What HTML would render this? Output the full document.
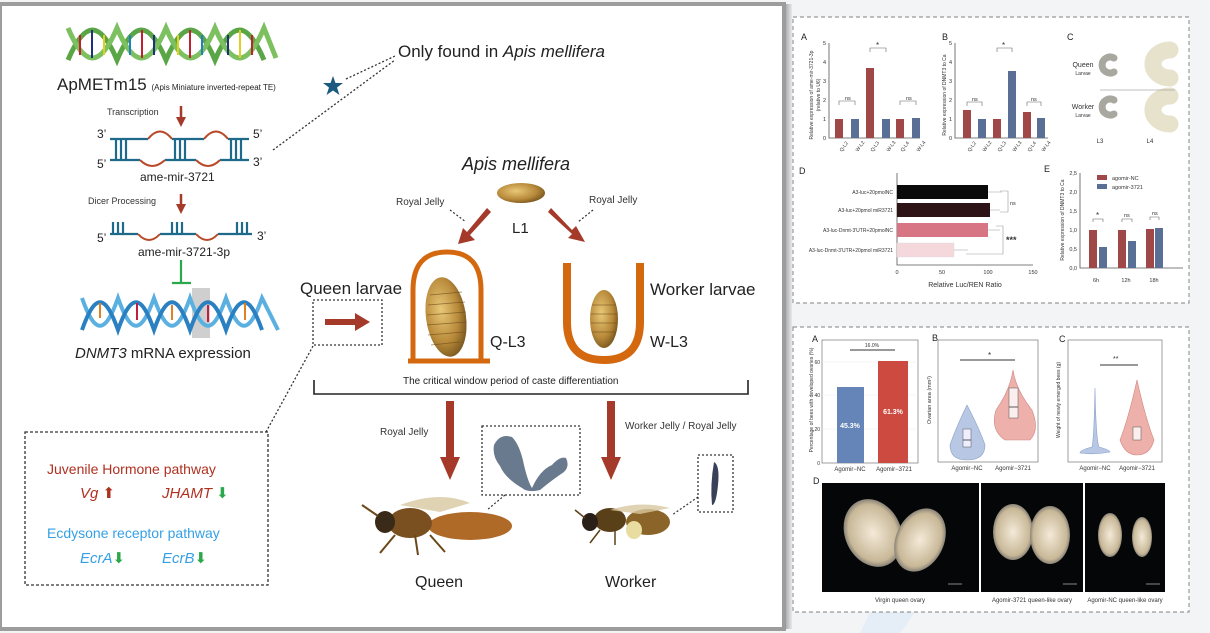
<!DOCTYPE html>
<html><head><meta charset="utf-8"><style>
html,body{margin:0;padding:0;background:#f3f4f6;}
svg{display:block;font-family:"Liberation Sans",Arial,sans-serif;}
</style></head><body>
<svg width="1210" height="633" viewBox="0 0 1210 633" xmlns="http://www.w3.org/2000/svg">
<defs>
<linearGradient id="sh" x1="0" x2="1"><stop offset="0" stop-color="#8a8a8a"/><stop offset="1" stop-color="#e8e9ec"/></linearGradient>
<radialGradient id="larva" cx="0.4" cy="0.4" r="0.7"><stop offset="0" stop-color="#e8c878"/><stop offset="0.6" stop-color="#b88a3a"/><stop offset="1" stop-color="#6a4a18"/></radialGradient>
<radialGradient id="ov" cx="0.5" cy="0.5" r="0.6"><stop offset="0" stop-color="#f4ead8"/><stop offset="0.7" stop-color="#c8b898"/><stop offset="1" stop-color="#3a4050"/></radialGradient>
<marker id="ah" markerWidth="4" markerHeight="4" refX="2" refY="2" orient="auto"><path d="M0,0 L4,2 L0,4z" fill="#a53a2a"/></marker>
</defs>
<rect width="1210" height="633" fill="#f3f4f6"/>
<path d="M900,470 Q960,560 900,633 L860,633 Q900,560 860,470z" fill="#dce8f6" opacity="0.6"/>
<!-- left panel -->
<rect x="782" y="4" width="10" height="625" fill="url(#sh)"/>
<rect x="0" y="4" width="784" height="625" fill="#fff" stroke="#9c9c9c" stroke-width="4"/>
<!-- top helix -->
<g stroke-width="5" fill="none">
<path d="M68,60 C85,20 100,20 117,60 C134,20 149,20 166,60 C183,20 198,20 215,60 C232,20 247,20 264,60" stroke="#5aa545"/>
<path d="M68,28 C85,68 100,68 117,28 C134,68 149,68 166,28 C183,68 198,68 215,28 C232,68 247,68 264,28 L276,58" stroke="#7cc060"/>
</g>
<g stroke-width="2">
<line x1="80" y1="35" x2="80" y2="55" stroke="#c02030"/><line x1="92" y1="30" x2="92" y2="58" stroke="#203080"/><line x1="104" y1="35" x2="104" y2="55" stroke="#e0d020"/>
<line x1="130" y1="35" x2="130" y2="55" stroke="#2080c0"/><line x1="142" y1="30" x2="142" y2="58" stroke="#c02030"/><line x1="154" y1="35" x2="154" y2="55" stroke="#203080"/>
<line x1="178" y1="35" x2="178" y2="55" stroke="#e0d020"/><line x1="190" y1="30" x2="190" y2="58" stroke="#c02030"/><line x1="202" y1="35" x2="202" y2="55" stroke="#2080c0"/>
<line x1="228" y1="35" x2="228" y2="55" stroke="#203080"/><line x1="240" y1="30" x2="240" y2="58" stroke="#e0d020"/><line x1="252" y1="35" x2="252" y2="55" stroke="#c02030"/>
</g>
<text x="57" y="90" font-size="17" fill="#222">ApMETm15 <tspan font-size="8">(Apis Miniature inverted-repeat TE)</tspan></text>
<polygon points="333,76 335.5,83 343,83 337,87.5 339.5,95 333,90.5 326.5,95 329,87.5 323,83 330.5,83" fill="#1a5a80"/>
<g stroke="#333" stroke-width="1.3" stroke-dasharray="2,2" fill="none">
<line x1="346" y1="79" x2="395" y2="56"/><line x1="273" y1="150" x2="395" y2="60"/>
<line x1="313" y1="346" x2="266" y2="432"/>
</g>
<text x="398" y="57" font-size="17" fill="#222">Only found in <tspan font-style="italic">Apis mellifera</tspan></text>
<text x="107" y="115" font-size="9" fill="#333">Transcription</text>
<line x1="181" y1="106" x2="181" y2="122" stroke="#a53a2a" stroke-width="2.5" marker-end="url(#ah)"/>
<g stroke="#1e6a8a" stroke-width="2.2" fill="none">
<path d="M110,139 H148 M172,139 H204 M228,139 H249"/>
<path d="M110,160 H140 M165,160 H196 M220,160 H249"/>
<path d="M116,139 V160 M121,139 V160 M126,139 V160 M175,139 V160 M180,139 V160 M185,139 V160 M231,139 V160 M236,139 V160 M241,139 V160"/>
</g>
<g stroke="#b84a2a" stroke-width="2" fill="none">
<path d="M148,139 Q160,124 172,139"/><path d="M204,139 Q216,124 228,139"/><path d="M140,160 Q152,172 165,160"/><path d="M196,160 Q208,172 220,160"/>
</g>
<g font-size="12" fill="#222"><text x="97" y="138">3’</text><text x="97" y="168">5’</text><text x="253" y="138">5’</text><text x="253" y="166">3’</text>
<text x="140" y="181">ame-mir-3721</text></g>
<text x="88" y="204" font-size="9" fill="#333">Dicer Processing</text>
<line x1="181" y1="194" x2="181" y2="209" stroke="#a53a2a" stroke-width="2.5" marker-end="url(#ah)"/>
<g stroke="#1e6a8a" stroke-width="2.2" fill="none">
<path d="M110,234 H138 M160,234 H196 M218,234 H252 M113,234 V222 M118,234 V222 M123,234 V222 M172,234 V222 M177,234 V222 M182,234 V222 M237,234 V222 M242,234 V222 M247,234 V222"/>
</g>
<g stroke="#b84a2a" stroke-width="2" fill="none"><path d="M138,234 Q149,246 160,234"/><path d="M196,234 Q207,246 218,234"/></g>
<g font-size="12" fill="#222"><text x="97" y="242">5’</text><text x="257" y="240">3’</text><text x="138" y="256">ame-mir-3721-3p</text></g>
<path d="M181,260 V283 M172,283 H191" stroke="#2aa84a" stroke-width="2.2"/>
<rect x="192" y="288" width="18" height="50" fill="#cfcfcf"/>
<g fill="none" stroke-width="4">
<path d="M82,298 C95,335 105,335 118,298 C131,335 141,335 154,298 C167,335 177,335 190,298 C203,335 213,335 226,298 C239,335 249,335 262,298 L278,330" stroke="#5ab0e0"/>
<path d="M82,330 C95,293 105,293 118,330 C131,293 141,293 154,330 C167,293 177,293 190,330 C203,293 213,293 226,330 C239,293 249,293 262,330" stroke="#2a80c0"/>
</g>
<g stroke-width="2"><line x1="100" y1="303" x2="100" y2="318" stroke="#e08020"/><line x1="137" y1="303" x2="137" y2="320" stroke="#c02040"/><line x1="172" y1="305" x2="172" y2="320" stroke="#e08020"/><line x1="208" y1="305" x2="208" y2="322" stroke="#c02040"/><line x1="245" y1="303" x2="245" y2="320" stroke="#e08020"/></g>
<text x="75" y="358" font-size="15" fill="#222"><tspan font-style="italic">DNMT3</tspan> mRNA expression</text>
<text x="300" y="294" font-size="17" fill="#222">Queen larvae</text>
<rect x="313" y="300" width="69" height="45" fill="none" stroke="#333" stroke-width="1.3" stroke-dasharray="2,2"/>
<path d="M325,319 H355 V313 L370,322 L355,331 V325 H325z" fill="#a53a2a"/>
<rect x="25" y="432" width="243" height="153" fill="none" stroke="#333" stroke-width="1.3" stroke-dasharray="3,2"/>
<text x="47" y="474" font-size="14" fill="#b03020">Juvenile Hormone pathway</text>
<text x="80" y="498" font-size="15" font-style="italic" fill="#b03020">Vg <tspan fill="#b03020" font-style="normal">⬆</tspan></text>
<text x="162" y="498" font-size="15" font-style="italic" fill="#b03020">JHAMT <tspan fill="#2aa84a" font-style="normal">⬇</tspan></text>
<text x="47" y="538" font-size="14" fill="#35a0e6">Ecdysone receptor pathway</text>
<text x="80" y="563" font-size="15" font-style="italic" fill="#35a0e6">EcrA<tspan fill="#2aa84a" font-style="normal">⬇</tspan></text>
<text x="162" y="563" font-size="15" font-style="italic" fill="#35a0e6">EcrB<tspan fill="#2aa84a" font-style="normal">⬇</tspan></text>
<!-- middle -->
<text x="462" y="170" font-size="18" font-style="italic" fill="#222">Apis mellifera</text>
<ellipse cx="521" cy="193" rx="24" ry="10" fill="url(#larva)"/>
<text x="512" y="233" font-size="15" fill="#222">L1</text>
<text x="396" y="205" font-size="10" fill="#333">Royal Jelly</text>
<text x="589" y="203" font-size="10" fill="#333">Royal Jelly</text>
<g stroke="#333" stroke-width="1.2" stroke-dasharray="2,2"><line x1="450" y1="210" x2="466" y2="222"/><line x1="593" y1="210" x2="578" y2="222"/></g>
<path d="M491,212 L470,235 L475,240 L458,244 L463,228 L467,232 L487,208z" fill="#a53a2a"/>
<path d="M551,208 L572,230 L576,226 L585,242 L568,238 L572,234 L548,212z" fill="#a53a2a"/>
<path d="M413,360 V290 Q413,252 447,252 Q481,252 481,290 V360" fill="none" stroke="#d4680e" stroke-width="5"/>
<line x1="408" y1="361" x2="490" y2="361" stroke="#d4680e" stroke-width="5"/>
<ellipse cx="446" cy="317" rx="20" ry="40" fill="url(#larva)" transform="rotate(-8 446 317)"/>
<g stroke="#6a4a18" stroke-width="0.8" opacity="0.7"><line x1="430" y1="295" x2="462" y2="292"/><line x1="428" y1="305" x2="465" y2="302"/><line x1="427" y1="315" x2="466" y2="312"/><line x1="427" y1="325" x2="466" y2="322"/><line x1="428" y1="335" x2="464" y2="332"/><line x1="431" y1="345" x2="460" y2="342"/></g>
<path d="M567,263 V322 Q567,360 604,360 Q640,360 640,322 V263" fill="none" stroke="#d4680e" stroke-width="8"/>
<ellipse cx="604" cy="319" rx="14" ry="29" fill="url(#larva)"/>
<g stroke="#6a4a18" stroke-width="0.8" opacity="0.7"><line x1="592" y1="305" x2="616" y2="305"/><line x1="591" y1="314" x2="617" y2="314"/><line x1="591" y1="323" x2="617" y2="323"/><line x1="592" y1="332" x2="616" y2="332"/></g>
<text x="490" y="347" font-size="16" fill="#222">Q-L3</text>
<text x="650" y="347" font-size="16" fill="#222">W-L3</text>
<text x="650" y="295" font-size="17" fill="#222">Worker larvae</text>
<path d="M314,380 V394 H748 V380" fill="none" stroke="#222" stroke-width="1.6"/>
<text x="403" y="384" font-size="10" fill="#222">The critical window period of caste differentiation</text>
<path d="M446,401 H454 V457 H460 L450,480 L440,457 H446z" fill="#a53a2a"/>
<path d="M607,401 H615 V457 H621 L611,480 L601,457 H607z" fill="#a53a2a"/>
<text x="380" y="435" font-size="10" fill="#333">Royal Jelly</text>
<text x="625" y="429" font-size="10" fill="#333">Worker Jelly / Royal Jelly</text>
<rect x="482" y="426" width="98" height="69" fill="none" stroke="#333" stroke-width="1.3" stroke-dasharray="2,2"/>
<path d="M494,445 Q500,433 512,437 Q520,445 524,465 Q528,482 532,488 Q540,470 552,465 Q560,456 566,458 Q570,466 564,472 Q552,480 540,490 Q528,493 522,488 Q505,478 500,466 Q492,456 494,445z" fill="#6a7a8e"/>
<rect x="698" y="455" width="35" height="57" fill="none" stroke="#333" stroke-width="1.3" stroke-dasharray="2,2"/>
<path d="M714,462 Q720,465 718,485 Q716,505 712,505 Q710,485 714,462z" fill="#3a4058"/>
<g stroke="#333" stroke-width="1.2" stroke-dasharray="2,2"><line x1="505" y1="495" x2="487" y2="510"/><line x1="698" y1="497" x2="672" y2="515"/></g>
<ellipse cx="470" cy="526" rx="42" ry="14" fill="#b06a28"/>
<ellipse cx="410" cy="523" rx="22" ry="15" fill="#7a5020"/>
<ellipse cx="385" cy="522" rx="10" ry="11" fill="#3a2a18"/>
<path d="M400,505 Q440,490 470,503 L440,512z" fill="#d8c8a0" opacity="0.8"/>
<g stroke="#6a4818" stroke-width="2"><line x1="395" y1="535" x2="380" y2="553"/><line x1="415" y1="535" x2="418" y2="555"/><line x1="430" y1="535" x2="445" y2="552"/><line x1="378" y1="516" x2="362" y2="505"/></g>
<text x="415" y="587" font-size="16" fill="#222">Queen</text>
<ellipse cx="648" cy="522" rx="22" ry="13" fill="#8a6428"/>
<ellipse cx="610" cy="520" rx="16" ry="12" fill="#5a4018"/>
<ellipse cx="590" cy="522" rx="8" ry="9" fill="#2a2018"/>
<ellipse cx="634" cy="530" rx="8" ry="9" fill="#e8dca0"/>
<path d="M610,510 Q640,500 670,508 L640,514z" fill="#d8c8a0" opacity="0.8"/>
<g stroke="#5a4018" stroke-width="1.5"><line x1="600" y1="530" x2="590" y2="543"/><line x1="615" y1="531" x2="615" y2="545"/><line x1="585" y1="518" x2="575" y2="510"/></g>
<text x="605" y="587" font-size="16" fill="#222">Worker</text>

<!-- RIGHT TOP PANEL -->
<rect x="793" y="17" width="396" height="286" fill="#fff" stroke="#999" stroke-width="1.2" stroke-dasharray="4,3"/>
<g font-size="9" fill="#222">
<text x="801" y="40">A</text><text x="942" y="40">B</text><text x="1067" y="40">C</text><text x="799" y="174">D</text><text x="1044" y="172">E</text>
</g>
<g font-size="5.5" fill="#333">
<path d="M829,43 V138 H920" fill="none" stroke="#555" stroke-width="0.8"/>
<text x="826" y="140" text-anchor="end">0</text><text x="826" y="121" text-anchor="end">1</text><text x="826" y="102" text-anchor="end">2</text><text x="826" y="83" text-anchor="end">3</text><text x="826" y="64" text-anchor="end">4</text><text x="826" y="45" text-anchor="end">5</text>
<rect x="835" y="119" width="8" height="19" fill="#a04848"/><rect x="851" y="119" width="8" height="19" fill="#5a6f95"/>
<rect x="866" y="68" width="8" height="70" fill="#a04848"/><rect x="882" y="119" width="8" height="19" fill="#5a6f95"/>
<rect x="896" y="119" width="8" height="19" fill="#a04848"/><rect x="912" y="118" width="8" height="20" fill="#5a6f95"/>
<path d="M839,105 V101 H855 V105 M870,52 V48 H886 V52 M900,105 V101 H916 V105" fill="none" stroke="#666" stroke-width="0.6"/>
<text x="845" y="100">ns</text><text x="876" y="48" font-size="8">*</text><text x="906" y="100">ns</text>
<text transform="translate(813,95) rotate(-90)" text-anchor="middle" font-size="5">Relative expression of ame-mir-3721-3p</text>
<text transform="translate(820,95) rotate(-90)" text-anchor="middle" font-size="5">(relative to U6)</text>
<g font-size="5"><text transform="translate(842,152) rotate(-55)">Q-L2</text><text transform="translate(858,152) rotate(-55)">W-L2</text><text transform="translate(873,152) rotate(-55)">Q-L3</text><text transform="translate(889,152) rotate(-55)">W-L3</text><text transform="translate(903,152) rotate(-55)">Q-L4</text><text transform="translate(919,152) rotate(-55)">W-L4</text></g>
</g>
<g font-size="5.5" fill="#333">
<path d="M955,43 V138 H1048" fill="none" stroke="#555" stroke-width="0.8"/>
<text x="952" y="140" text-anchor="end">0</text><text x="952" y="121" text-anchor="end">1</text><text x="952" y="102" text-anchor="end">2</text><text x="952" y="83" text-anchor="end">3</text><text x="952" y="64" text-anchor="end">4</text><text x="952" y="45" text-anchor="end">5</text>
<rect x="963" y="110" width="8" height="28" fill="#a04848"/><rect x="978" y="119" width="8" height="19" fill="#5a6f95"/>
<rect x="993" y="119" width="8" height="19" fill="#a04848"/><rect x="1008" y="71" width="8" height="67" fill="#5a6f95"/>
<rect x="1023" y="112" width="8" height="26" fill="#a04848"/><rect x="1037" y="118" width="8" height="20" fill="#5a6f95"/>
<path d="M967,106 V102 H982 V106 M997,52 V48 H1012 V52 M1027,106 V102 H1041 V106" fill="none" stroke="#666" stroke-width="0.6"/>
<text x="972" y="101">ns</text><text x="1002" y="48" font-size="8">*</text><text x="1031" y="101">ns</text>
<text transform="translate(946,95) rotate(-90)" text-anchor="middle" font-size="5">Relative expression of DNMT3 to Ca</text>
<g font-size="5"><text transform="translate(970,152) rotate(-55)">Q-L2</text><text transform="translate(985,152) rotate(-55)">W-L2</text><text transform="translate(1000,152) rotate(-55)">Q-L3</text><text transform="translate(1015,152) rotate(-55)">W-L3</text><text transform="translate(1030,152) rotate(-55)">Q-L4</text><text transform="translate(1044,152) rotate(-55)">W-L4</text></g>
</g>
<!-- C -->
<g font-size="6" fill="#333" text-anchor="middle">
<text x="1083" y="67" font-size="7">Queen</text><text x="1083" y="75" font-size="5">Larvae</text>
<text x="1083" y="109" font-size="7">Worker</text><text x="1083" y="117" font-size="5">Larvae</text>
<text x="1100" y="143">L3</text><text x="1150" y="143">L4</text>
</g>
<g fill="none" stroke-linecap="round">
<path d="M1114,58 A8,8 0 1 0 1114,72" stroke="#a8a8a0" stroke-width="7"/>
<path d="M1170,50 A17,14 0 1 0 1170,78" stroke="#e6e2cc" stroke-width="17"/>
<path d="M1114,100 A8,8 0 1 0 1114,114" stroke="#a8a8a0" stroke-width="7"/>
<path d="M1170,96 A17,14 0 1 0 1170,124" stroke="#e6e2cc" stroke-width="17"/>
</g>
<line x1="1100" y1="90" x2="1175" y2="90" stroke="#aaa" stroke-width="0.8"/>
<!-- D -->
<g font-size="5.5" fill="#333">
<path d="M897,173 V265 H1033" fill="none" stroke="#555" stroke-width="0.8"/>
<rect x="897" y="185" width="91" height="14" fill="#0a0a0a"/>
<rect x="897" y="203" width="93" height="14" fill="#2d1216"/>
<rect x="897" y="223" width="91" height="14" fill="#d87585"/>
<rect x="897" y="243" width="57" height="14" fill="#f4d8dc" stroke="#ddd" stroke-width="0.4"/>
<g text-anchor="end" font-size="5"><text x="893" y="194">A3-luc+20pmolNC</text><text x="893" y="212">A3-luc+20pmol miR3721</text><text x="893" y="232">A3-luc-Dnmt-3'UTR+20pmolNC</text><text x="893" y="252">A3-luc-Dnmt-3'UTR+20pmol miR3721</text></g>
<path d="M988,192 H1002 M990,210 H1000 M1000,191 H1008 V212 H1000 M985,230 H1000 M968,250 H954 M996,226 H1003 V254 H966" fill="none" stroke="#999" stroke-width="0.6"/>
<text x="1010" y="205">ns</text><text x="1006" y="243" font-size="9" font-weight="bold">***</text>
<g text-anchor="middle"><text x="897" y="274">0</text><text x="942" y="274">50</text><text x="988" y="274">100</text><text x="1033" y="274">150</text>
<text x="965" y="287" font-size="7">Relative Luc/REN Ratio</text></g>
</g>
<!-- E -->
<g font-size="5.5" fill="#333">
<path d="M1080,173 V268 H1183" fill="none" stroke="#555" stroke-width="0.8"/>
<g text-anchor="end"><text x="1077" y="270">0,0</text><text x="1077" y="251">0,5</text><text x="1077" y="232">1,0</text><text x="1077" y="213">1,5</text><text x="1077" y="194">2,0</text><text x="1077" y="175">2,5</text></g>
<rect x="1089" y="230" width="8" height="38" fill="#a04848"/><rect x="1099" y="247" width="8" height="21" fill="#5a6f95"/>
<rect x="1118" y="230" width="8" height="38" fill="#a04848"/><rect x="1128" y="241" width="8" height="27" fill="#5a6f95"/>
<rect x="1146" y="229" width="8" height="39" fill="#a04848"/><rect x="1155" y="228" width="8" height="40" fill="#5a6f95"/>
<path d="M1093,222 V219 H1103 V222 M1122,222 V219 H1132 V222 M1150,220 V217 H1159 V220" fill="none" stroke="#666" stroke-width="0.6"/>
<text x="1096" y="218" font-size="8">*</text><text x="1124" y="217">ns</text><text x="1152" y="215">ns</text>
<rect x="1097" y="175" width="10" height="5" fill="#a04848"/><text x="1112" y="180">agomir-NC</text>
<rect x="1097" y="184" width="10" height="5" fill="#5a6f95"/><text x="1112" y="189">agomir-3721</text>
<text transform="translate(1064,220) rotate(-90)" text-anchor="middle" font-size="5">Relative expression of DNMT3 to Ca</text>
<g text-anchor="middle"><text x="1096" y="282">6h</text><text x="1126" y="282">12h</text><text x="1154" y="282">18h</text></g>
</g>

<!-- RIGHT BOTTOM PANEL -->
<rect x="793" y="327" width="396" height="285" fill="#fff" stroke="#999" stroke-width="1.2" stroke-dasharray="4,3"/>
<g font-size="9" fill="#222"><text x="812" y="342">A</text><text x="932" y="341">B</text><text x="1059" y="342">C</text><text x="813" y="484">D</text></g>
<g font-size="5" fill="#333">
<rect x="822" y="340" width="96" height="123" fill="none" stroke="#888" stroke-width="0.8"/>
<g stroke="#eee" stroke-width="0.5"><line x1="822" y1="362" x2="918" y2="362"/><line x1="822" y1="395" x2="918" y2="395"/><line x1="822" y1="429" x2="918" y2="429"/></g>
<rect x="837" y="387" width="27" height="76" fill="#6584b8"/>
<rect x="878" y="361" width="30" height="102" fill="#cc4a40"/>
<line x1="850" y1="350" x2="895" y2="350" stroke="#333" stroke-width="1"/>
<text x="872" y="347" text-anchor="middle">16.0%</text>
<text x="850" y="428" text-anchor="middle" fill="#fff" font-size="7" font-weight="bold">45.3%</text>
<text x="893" y="414" text-anchor="middle" fill="#fff" font-size="7" font-weight="bold">61.3%</text>
<g text-anchor="end"><text x="820" y="465">0</text><text x="820" y="431">20</text><text x="820" y="397">40</text><text x="820" y="364">60</text></g>
<text transform="translate(813,400) rotate(-90)" text-anchor="middle" font-size="5">Percentage of bees with developed ovaries (%)</text>
<g text-anchor="middle" font-size="6"><text x="850" y="471">Agomir−NC</text><text x="894" y="471">Agomir−3721</text></g>
</g>
<g font-size="5" fill="#333">
<rect x="938" y="340" width="100" height="122" fill="none" stroke="#888" stroke-width="0.8"/>
<path d="M967,405 Q955,430 950,445 Q950,460 967,460 Q985,460 985,445 Q980,430 967,405z" fill="#b8c8e4" stroke="#8aa0c8" stroke-width="0.6"/>
<rect x="963" y="429" width="8" height="18" fill="#eef" stroke="#555" stroke-width="0.5"/>
<line x1="963" y1="440" x2="971" y2="440" stroke="#333" stroke-width="0.8"/>
<path d="M1013,370 Q1010,390 996,410 Q990,430 1005,440 L1030,440 Q1040,430 1032,410 Q1016,390 1013,370z" fill="#eeb0aa" stroke="#d08880" stroke-width="0.6"/>
<rect x="1009" y="388" width="9" height="30" fill="#fbeeee" stroke="#555" stroke-width="0.5"/>
<line x1="1009" y1="407" x2="1018" y2="407" stroke="#333" stroke-width="0.8"/>
<line x1="960" y1="360" x2="1015" y2="360" stroke="#333" stroke-width="1"/>
<text x="988" y="358" font-size="8">*</text>
<text transform="translate(931,400) rotate(-90)" text-anchor="middle" font-size="5.5">Ovarian area (mm²)</text>
<g text-anchor="middle" font-size="6"><text x="967" y="470">Agomir−NC</text><text x="1013" y="470">Agomir−3721</text></g>
</g>
<g font-size="5" fill="#333">
<rect x="1068" y="340" width="94" height="122" fill="none" stroke="#888" stroke-width="0.8"/>
<path d="M1095,388 Q1096,440 1099,447 Q1110,450 1110,452 Q1095,455 1080,453 Q1080,450 1092,447 Q1094,440 1095,388z" fill="#b8c8e4" stroke="#8aa0c8" stroke-width="0.6"/>
<path d="M1137,380 Q1128,420 1120,440 Q1125,455 1137,455 Q1150,455 1154,440 Q1146,420 1137,380z" fill="#eeb0aa" stroke="#d08880" stroke-width="0.6"/>
<rect x="1133" y="427" width="8" height="13" fill="#fbeeee" stroke="#555" stroke-width="0.5"/>
<line x1="1100" y1="365" x2="1138" y2="365" stroke="#333" stroke-width="1"/>
<text x="1113" y="361" font-size="7">**</text>
<text transform="translate(1060,400) rotate(-90)" text-anchor="middle" font-size="5">Weight of newly emerged bees (g)</text>
<g text-anchor="middle" font-size="6"><text x="1095" y="470">Agomir−NC</text><text x="1137" y="470">Agomir−3721</text></g>
</g>
<rect x="822" y="483" width="157" height="109" fill="#050608"/>
<rect x="981" y="483" width="102" height="109" fill="#050608"/>
<rect x="1085" y="483" width="80" height="109" fill="#050608"/>
<ellipse cx="873" cy="533" rx="28" ry="35" fill="url(#ov)" transform="rotate(-25 873 533)"/>
<ellipse cx="920" cy="540" rx="24" ry="33" fill="url(#ov)" transform="rotate(25 920 540)"/>
<ellipse cx="1013" cy="532" rx="20" ry="28" fill="url(#ov)"/>
<ellipse cx="1050" cy="535" rx="20" ry="29" fill="url(#ov)"/>
<ellipse cx="1110" cy="535" rx="12" ry="22" fill="url(#ov)"/>
<ellipse cx="1142" cy="537" rx="10" ry="20" fill="url(#ov)"/>
<g stroke="#ddd" stroke-width="0.6"><line x1="948" y1="584" x2="962" y2="584"/><line x1="1063" y1="584" x2="1077" y2="584"/><line x1="1146" y1="584" x2="1160" y2="584"/></g>
<g font-size="6" fill="#333" text-anchor="middle"><text x="900" y="602">Virgin queen ovary</text><text x="1032" y="602">Agomir-3721 queen-like ovary</text><text x="1125" y="602">Agomir-NC queen-like ovary</text></g>
</svg>
</body></html>
